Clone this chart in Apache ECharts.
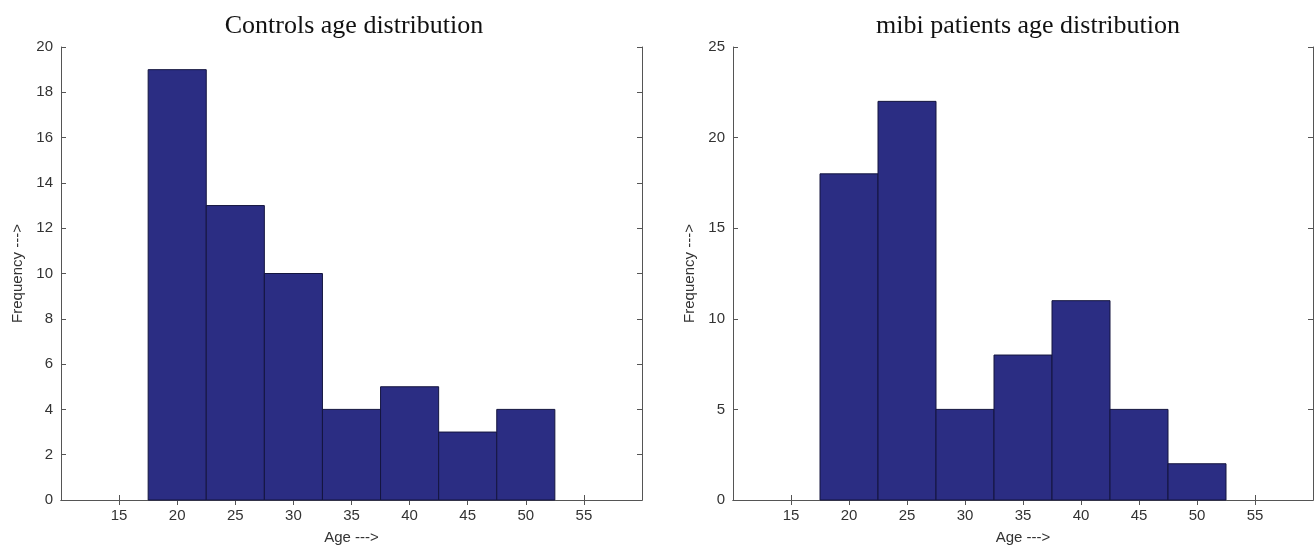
<!DOCTYPE html>
<html>
<head>
<meta charset="utf-8">
<title>Age distribution</title>
<script src="https://cdn.jsdelivr.net/npm/echarts@6/dist/echarts.min.js"></script>
<style>
  html, body { margin: 0; padding: 0; background: #fff; }
  #chart { width: 1315px; height: 550px; }
</style>
</head>
<body>
<div id="chart"></div>
<script>
// 直方图数据: 每个柱子的中心年龄, 宽度 5
var binCenters = [20, 25, 30, 35, 40, 45, 50];
var controlsFreq = [19, 13, 10, 4, 5, 3, 4];
var patientsFreq = [18, 22, 5, 8, 11, 5, 2];
var xTicks = [15, 20, 25, 30, 35, 40, 45, 50, 55];
var binWidth = 5;

var chart = echarts.init(document.getElementById('chart'));

var barColor = '#2b2d83';
var axisColor = '#555';
var sansFont = 'Liberation Sans, Arial';
var labelFont = { fontFamily: sansFont, fontSize: 15, color: '#333' };

function toData(freq) {
    return binCenters.map(function (c, i) { return [c, freq[i]]; });
}

// 用坐标轴换算柱子的矩形
function renderBar(params, api) {
    var x = api.value(0), y = api.value(1);
    var p0 = api.coord([x - binWidth / 2, y]);
    var p1 = api.coord([x + binWidth / 2, 0]);
    return {
        type: 'rect',
        shape: { x: p0[0], y: p0[1], width: p1[0] - p0[0], height: p1[1] - p0[1] },
        style: { fill: barColor, stroke: '#14153f', lineWidth: 1 }
    };
}

function xAxisFor(gridIndex, pos) {
    return {
        type: 'value', gridIndex: gridIndex, position: pos,
        min: 10, max: 60, interval: 5,
        name: pos === 'bottom' ? 'Age --->' : '',
        nameLocation: 'middle', nameGap: 30,
        nameTextStyle: { fontFamily: sansFont, fontSize: 15, color: '#333' },
        axisLine: { show: true, lineStyle: { color: axisColor } },
        axisTick: {
            inside: true, length: 5, lineStyle: { color: axisColor },
            customValues: xTicks
        },
        axisLabel: {
            show: pos === 'bottom', margin: 8,
            fontFamily: sansFont, fontSize: 15, color: '#333',
            customValues: xTicks
        },
        splitLine: { show: false }
    };
}

function yAxisFor(gridIndex, pos, max, interval) {
    return {
        type: 'value', gridIndex: gridIndex, position: pos,
        min: 0, max: max, interval: interval,
        name: pos === 'left' ? 'Frequency --->' : '',
        nameLocation: 'middle', nameGap: 36, nameRotate: 90,
        nameTextStyle: { fontFamily: sansFont, fontSize: 15, color: '#333' },
        axisLine: { show: true, lineStyle: { color: axisColor } },
        axisTick: { show: true, inside: true, length: 5, lineStyle: { color: axisColor } },
        axisLabel: {
            show: pos === 'left', margin: 8,
            fontFamily: sansFont, fontSize: 15, color: '#333'
        },
        splitLine: { show: false }
    };
}

var option = {
    backgroundColor: '#fff',
    animation: false,
    title: [
        {
            text: 'Controls age distribution', left: 349, top: 8, textAlign: 'center',
            textStyle: { fontFamily: 'Liberation Serif, Times New Roman', fontSize: 26, fontWeight: 'normal', color: '#111' }
        },
        {
            text: 'mibi patients age distribution', left: 1023, top: 8, textAlign: 'center',
            textStyle: { fontFamily: 'Liberation Serif, Times New Roman', fontSize: 26, fontWeight: 'normal', color: '#111' }
        }
    ],
    grid: [
        { left: 61, top: 47, width: 581, height: 458 },
        { left: 733, top: 47, width: 580, height: 458 }
    ],
    xAxis: [
        xAxisFor(0, 'bottom'), xAxisFor(0, 'top'),
        xAxisFor(1, 'bottom'), xAxisFor(1, 'top')
    ],
    yAxis: [
        yAxisFor(0, 'left', 20, 2), yAxisFor(0, 'right', 20, 2),
        yAxisFor(1, 'left', 25, 5), yAxisFor(1, 'right', 25, 5)
    ],
    series: [
        {
            name: 'Controls', type: 'custom', xAxisIndex: 0, yAxisIndex: 0,
            renderItem: renderBar, data: toData(controlsFreq)
        },
        {
            name: 'mibi patients', type: 'custom', xAxisIndex: 2, yAxisIndex: 2,
            renderItem: renderBar, data: toData(patientsFreq)
        }
    ]
};

chart.setOption(option);
</script>
</body>
</html>
